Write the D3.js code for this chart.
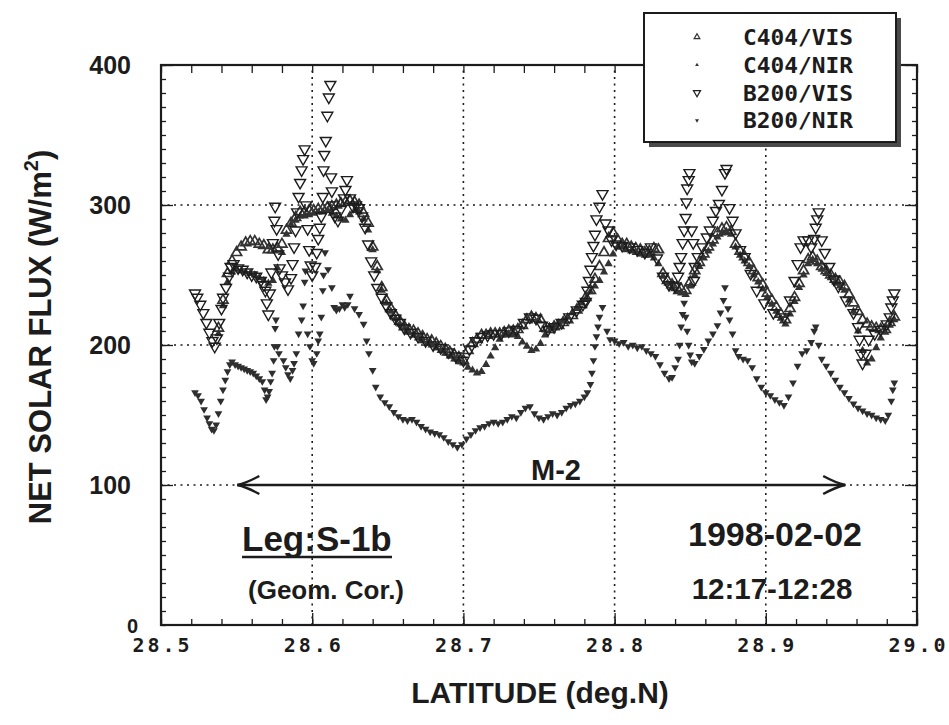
<!DOCTYPE html>
<html><head><meta charset="utf-8">
<script src="https://cdn.jsdelivr.net/npm/d3@7"></script>
<style>body{margin:0;background:#fff}svg{display:block}</style>
</head><body><svg id="c" width="949" height="725"></svg>
<script>
// ---------------- data ----------------
const latTicks = [28.5, 28.6, 28.7, 28.8, 28.9, 29.0];
const latTickLabels = ["28.5", "28.6", "28.7", "28.8", "28.9", "29.0"];
const fluxTicks = [100, 200, 300, 400];
const fluxTickLabels = ["100", "200", "300", "400"];
const latGrid = [28.6, 28.7, 28.8, 28.9];
const fluxGrid = [100, 200, 300];
const seriesNames = ["C404/VIS", "C404/NIR", "B200/VIS", "B200/NIR"];
const arrowLats = [28.5505, 28.9525];
const arrowFlux = 100;

const c404Lat = [
28.538,28.541,28.544,28.547,28.550,28.553,28.556,28.559,28.562,28.565,
28.568,28.571,28.574,28.577,28.580,28.583,28.586,28.589,28.592,28.595,
28.598,28.601,28.604,28.607,28.610,28.613,28.616,28.619,28.622,28.625,
28.628,28.631,28.634,28.637,28.640,28.643,28.646,28.649,28.652,28.655,
28.658,28.661,28.664,28.667,28.670,28.673,28.676,28.679,28.682,28.685,
28.688,28.691,28.694,28.697,28.700,28.703,28.706,28.709,28.712,28.715,
28.718,28.721,28.724,28.727,28.730,28.733,28.736,28.739,28.742,28.745,
28.748,28.751,28.754,28.757,28.760,28.763,28.766,28.769,28.772,28.775,
28.778,28.781,28.784,28.787,28.790,28.793,28.796,28.799,28.802,28.805,
28.808,28.811,28.814,28.817,28.820,28.823,28.826,28.829,28.832,28.835,
28.838,28.841,28.844,28.847,28.850,28.853,28.856,28.859,28.862,28.865,
28.868,28.871,28.874,28.877,28.880,28.883,28.886,28.889,28.892,28.895,
28.898,28.901,28.904,28.907,28.910,28.913,28.916,28.919,28.922,28.925,
28.928,28.931,28.934,28.937,28.940,28.943,28.946,28.949,28.952,28.955,
28.958,28.961,28.964,28.967,28.970,28.973,28.976,28.979,28.982,28.985];
const c404Vis = [
212,232,251,260,266,270,273,274,274,272,
271,268,268,269,272,282,287,291,295,295,
296,296,297,297,298,299,300,301,302,303,
302,300,294,287,270,256,241,232,226,221,
217,213,211,210,208,206,204,203,201,199,
197,195,193,191,189,196,201,204,207,207,
208,208,208,209,210,210,211,214,218,220,
219,218,212,211,213,214,216,218,221,225,
229,234,239,247,256,266,276,280,275,272,
272,270,269,268,266,267,269,268,251,246,
243,241,240,239,245,253,259,265,270,275,
280,283,284,281,272,267,263,259,253,248,
243,237,232,227,222,218,226,234,244,253,
261,263,260,256,253,250,247,245,242,236,
230,224,218,215,213,212,211,211,216,220];
const c404Nir = [
208,228,245,252,254,253,252,251,250,248,
246,244,246,255,266,279,286,289,292,292,
293,294,295,295,296,294,292,290,289,293,
296,295,290,282,268,253,239,230,224,219,
215,212,209,207,205,203,201,200,198,196,
194,192,190,188,187,184,182,180,181,186,
192,198,204,207,208,207,206,202,199,196,
197,201,207,213,214,215,217,220,223,226,
230,233,238,242,246,252,258,265,270,270,
268,267,266,265,264,264,262,258,249,244,
241,238,237,236,242,250,256,262,267,272,
277,280,281,279,270,264,260,256,250,245,
240,234,229,224,219,215,222,231,241,250,
258,261,258,254,251,248,245,242,239,232,
224,210,196,187,190,198,205,209,214,218];

const b200VisLat = [
28.5225,28.5240,28.5260,28.5280,28.5300,28.5320,28.5340,28.5355,28.5370,28.5385,
28.5400,28.5410,28.5430,28.5450,28.5460,28.5480,28.5510,28.5540,28.5570,28.5600,
28.5630,28.5660,28.5680,28.5690,28.5700,28.5710,28.5720,28.5730,28.5740,28.5750,
28.5755,28.5765,28.5775,28.5785,28.5800,28.5820,28.5840,28.5860,28.5870,28.5880,
28.5890,28.5900,28.5910,28.5920,28.5930,28.5940,28.5950,28.5960,28.5970,28.5980,
28.5990,28.6000,28.6020,28.6030,28.6040,28.6050,28.6060,28.6070,28.6075,28.6080,
28.6090,28.6100,28.6110,28.6120,28.6125,28.6130,28.6140,28.6150,28.6170,28.6190,
28.6210,28.6220,28.6230,28.6250,28.6270,28.6290,28.6310,28.6330,28.6350,28.6370,
28.6390,28.6410,28.6430,28.6460,28.6490,28.6520,28.6550,28.6580,28.6610,28.6650,
28.6700,28.6750,28.6800,28.6850,28.6900,28.6950,28.7000,28.7040,28.7080,28.7120,
28.7160,28.7200,28.7250,28.7300,28.7350,28.7400,28.7440,28.7480,28.7520,28.7560,
28.7600,28.7650,28.7700,28.7750,28.7790,28.7810,28.7820,28.7830,28.7840,28.7850,
28.7860,28.7870,28.7880,28.7900,28.7920,28.7940,28.7960,28.7980,28.8010,28.8050,
28.8100,28.8150,28.8200,28.8240,28.8280,28.8320,28.8360,28.8400,28.8420,28.8430,
28.8440,28.8450,28.8460,28.8470,28.8475,28.8480,28.8490,28.8495,28.8510,28.8520,
28.8525,28.8530,28.8550,28.8580,28.8610,28.8630,28.8650,28.8670,28.8690,28.8710,
28.8730,28.8740,28.8760,28.8780,28.8800,28.8830,28.8860,28.8900,28.8940,28.8990,
28.9050,28.9120,28.9160,28.9190,28.9210,28.9230,28.9250,28.9280,28.9300,28.9320,
28.9330,28.9340,28.9350,28.9370,28.9390,28.9420,28.9450,28.9480,28.9530,28.9580,
28.9610,28.9620,28.9630,28.9640,28.9660,28.9680,28.9720,28.9760,28.9800,28.9820,
28.9830,28.9840,28.9850];
const b200Vis = [
237,234,229,223,216,209,203,199,205,216,
226,234,241,249,256,258,255,254,252,250,
249,246,243,239,230,222,237,252,273,289,
299,283,265,255,250,245,240,248,258,270,
282,295,306,316,325,333,340,300,283,268,
257,250,256,266,276,284,292,306,325,336,
346,364,377,386,320,310,300,292,289,297,
305,311,318,305,299,300,298,292,284,272,
260,250,241,234,228,223,219,216,212,209,
206,203,200,198,195,192,189,197,203,206,
207,208,208,210,211,216,220,219,214,211,
213,216,220,225,229,231,239,246,254,263,
271,279,290,299,308,287,282,275,272,271,
270,268,266,270,262,249,243,242,249,256,
263,273,282,291,302,312,318,323,282,273,
246,256,263,270,277,282,289,296,301,311,
323,326,298,289,280,268,263,251,239,230,
223,220,232,246,258,270,275,275,270,276,
284,290,295,275,266,256,247,242,232,223,
213,204,194,187,194,204,208,211,215,220,
227,232,237];

const b200NirLat = [
28.5225,28.5245,28.5265,28.5285,28.5305,28.5320,28.5335,28.5350,28.5365,28.5380,
28.5395,28.5410,28.5425,28.5440,28.5455,28.5470,28.5490,28.5510,28.5530,28.5550,
28.5570,28.5590,28.5610,28.5630,28.5650,28.5670,28.5685,28.5695,28.5705,28.5715,
28.5725,28.5735,28.5745,28.5750,28.5755,28.5760,28.5770,28.5780,28.5810,28.5825,
28.5840,28.5855,28.5870,28.5880,28.5895,28.5910,28.5930,28.5940,28.5950,28.5955,
28.5970,28.5985,28.6000,28.6010,28.6030,28.6040,28.6050,28.6060,28.6070,28.6075,
28.6085,28.6105,28.6130,28.6145,28.6160,28.6180,28.6200,28.6215,28.6235,28.6250,
28.6280,28.6310,28.6340,28.6360,28.6375,28.6400,28.6420,28.6450,28.6480,28.6510,
28.6540,28.6570,28.6600,28.6630,28.6660,28.6690,28.6720,28.6750,28.6780,28.6810,
28.6840,28.6870,28.6900,28.6930,28.6960,28.6990,28.7020,28.7050,28.7080,28.7110,
28.7140,28.7170,28.7200,28.7230,28.7260,28.7290,28.7320,28.7350,28.7380,28.7410,
28.7440,28.7470,28.7500,28.7530,28.7560,28.7590,28.7620,28.7650,28.7680,28.7710,
28.7740,28.7770,28.7800,28.7820,28.7840,28.7850,28.7860,28.7870,28.7880,28.7890,
28.7900,28.7920,28.7950,28.7970,28.8000,28.8030,28.8060,28.8090,28.8120,28.8150,
28.8180,28.8210,28.8240,28.8270,28.8300,28.8330,28.8360,28.8380,28.8400,28.8420,
28.8430,28.8440,28.8450,28.8460,28.8470,28.8480,28.8490,28.8500,28.8510,28.8530,
28.8560,28.8590,28.8620,28.8650,28.8680,28.8700,28.8720,28.8730,28.8750,28.8760,
28.8780,28.8800,28.8820,28.8850,28.8880,28.8910,28.8940,28.8970,28.9000,28.9030,
28.9060,28.9090,28.9120,28.9150,28.9180,28.9210,28.9240,28.9270,28.9300,28.9320,
28.9330,28.9350,28.9370,28.9400,28.9430,28.9460,28.9490,28.9520,28.9550,28.9580,
28.9610,28.9640,28.9670,28.9700,28.9730,28.9760,28.9790,28.9810,28.9830,28.9840,
28.9850];
const b200Nir = [
166,164,160,154,148,144,140,139,143,151,
160,168,175,181,186,188,186,185,184,183,
182,181,180,178,176,174,168,161,163,167,
174,180,189,199,212,218,199,194,189,184,
179,176,182,187,194,208,218,228,245,253,
208,199,189,187,194,203,208,220,239,250,
266,254,241,227,225,226,229,227,229,235,
226,222,215,203,194,182,170,163,159,156,
152,149,147,146,147,145,142,140,138,137,
136,134,131,129,127,129,133,136,139,141,
142,144,145,144,145,147,149,148,152,155,
156,151,148,147,149,151,150,152,155,157,
158,160,163,166,172,180,189,199,206,213,
220,227,210,204,203,201,202,199,200,198,
199,196,194,192,186,180,176,177,184,190,
200,213,222,230,220,210,200,193,188,187,
192,197,203,208,214,223,232,241,226,218,
208,196,192,190,189,184,176,170,166,164,
161,159,157,163,173,185,194,196,202,210,
213,200,190,185,180,175,170,166,162,158,
155,153,151,150,148,147,146,150,160,168,
173];

// ---------------- drawing ----------------
const svg = d3.select("#c");
const ink = "#1c1c1c";
const sans = "'Liberation Sans', Arial, Helvetica, sans-serif";
const mono = "'DejaVu Sans Mono', 'Liberation Mono', monospace";

const x = d3.scaleLinear().domain([28.5, 29.0]).range([161, 917]);
const y = d3.scaleLinear().domain([0, 400]).range([625, 65]);

// grid lines
const grid = svg.append("g").attr("stroke", ink).attr("stroke-width", 1.6)
  .attr("stroke-dasharray", "2,4.5");
grid.selectAll("line.v").data(latGrid).join("line").attr("class", "v")
  .attr("x1", d => x(d)).attr("x2", d => x(d)).attr("y1", y(0)).attr("y2", y(400));
grid.selectAll("line.h").data(fluxGrid).join("line").attr("class", "h")
  .attr("y1", d => y(d)).attr("y2", d => y(d)).attr("x1", x(28.5)).attr("x2", x(29.0));

// series
const tri = s => d3.symbol(d3.symbolTriangle, s)();
function drawSeries(lats, vals, o) {
  svg.append("g").selectAll("path").data(lats.map((l, i) => [l, vals[i]])).join("path")
    .attr("d", tri(o.size))
    .attr("transform", d => `translate(${x(d[0])},${y(d[1])})` + (o.down ? " rotate(180)" : ""))
    .attr("fill", o.fill).attr("stroke", o.stroke).attr("stroke-width", o.sw);
}
const styles = [
  {size: 44, down: false, fill: "none", stroke: "#333", sw: 1.7},
  {size: 30, down: false, fill: "#333", stroke: "none", sw: 0},
  {size: 52, down: true, fill: "none", stroke: ink, sw: 1.4},
  {size: 26, down: true, fill: "#2e2e2e", stroke: "none", sw: 0}
];
drawSeries(c404Lat, c404Vis, styles[0]);
drawSeries(c404Lat, c404Nir, styles[1]);
drawSeries(b200NirLat, b200Nir, styles[3]);
drawSeries(b200VisLat, b200Vis, styles[2]);

// axes (ticks pointing inward)
const minorLat = d3.range(0, 26).map(i => 28.5 + i * 0.02);
const minorFlux = d3.range(0, 41).map(i => i * 10);
function axisCall(gen) {
  return g => { g.call(gen); g.select(".domain").remove(); g.attr("color", ink).selectAll("line").attr("stroke-width", 1.3); };
}
svg.append("g").attr("transform", `translate(0,${y(0)})`).call(axisCall(d3.axisBottom(x).tickValues(minorLat).tickSize(-6).tickFormat("")));
svg.append("g").attr("transform", `translate(0,${y(0)})`).call(axisCall(d3.axisBottom(x).tickValues(latTicks).tickSize(-12).tickFormat("")));
svg.append("g").attr("transform", `translate(0,${y(400)})`).call(axisCall(d3.axisTop(x).tickValues(minorLat).tickSize(-8).tickFormat("")));
svg.append("g").attr("transform", `translate(${x(28.5)},0)`).call(axisCall(d3.axisLeft(y).tickValues(minorFlux).tickSize(-5).tickFormat("")));
svg.append("g").attr("transform", `translate(${x(28.5)},0)`).call(axisCall(d3.axisLeft(y).tickValues(fluxTicks).tickSize(-12).tickFormat("")));
svg.append("g").attr("transform", `translate(${x(29.0)},0)`).call(axisCall(d3.axisRight(y).tickValues(minorFlux).tickSize(-5).tickFormat("")));
svg.append("g").attr("transform", `translate(${x(29.0)},0)`).call(axisCall(d3.axisRight(y).tickValues(fluxTicks).tickSize(-12).tickFormat("")));

// frame
svg.append("rect").attr("x", x(28.5)).attr("y", y(400)).attr("width", x(29.0) - x(28.5))
  .attr("height", y(0) - y(400)).attr("fill", "none").attr("stroke", ink).attr("stroke-width", 2.2);

// tick labels
svg.append("g").selectAll("text").data(latTicks).join("text")
  .attr("x", d => x(d)).attr("y", 652).attr("text-anchor", "middle")
  .attr("font-family", mono).attr("font-weight", "bold").attr("font-size", 20).attr("fill", ink)
  .attr("textLength", 57).attr("lengthAdjust", "spacing")
  .text((d, i) => latTickLabels[i]);
svg.append("g").selectAll("text").data(fluxTicks).join("text")
  .attr("x", 131).attr("y", d => y(d)).attr("dy", "0.36em").attr("text-anchor", "end")
  .attr("font-family", sans).attr("font-weight", "bold").attr("font-size", 25).attr("fill", ink)
  .text((d, i) => fluxTickLabels[i]);
svg.append("text").attr("x", 138).attr("y", 633).attr("text-anchor", "end")
  .attr("font-family", sans).attr("font-weight", "bold").attr("font-size", 20).attr("fill", ink).text("0");

// axis titles
svg.append("text").attr("x", 540).attr("y", 703).attr("text-anchor", "middle")
  .attr("font-family", sans).attr("font-weight", "bold").attr("font-size", 30).attr("fill", ink)
  .text("LATITUDE (deg.N)");
const yt = svg.append("text").attr("transform", "translate(51,337) rotate(-90)").attr("text-anchor", "middle")
  .attr("font-family", sans).attr("font-weight", "bold").attr("font-size", 31).attr("fill", ink);
yt.append("tspan").text("NET SOLAR FLUX (W/m");
yt.append("tspan").attr("font-size", 20).attr("dy", -13).text("2");
yt.append("tspan").attr("dy", 13).text(")");

// M-2 arrow
const ay = y(arrowFlux), ax0 = x(arrowLats[0]), ax1 = x(arrowLats[1]);
const ar = svg.append("g").attr("stroke", ink).attr("fill", "none").attr("stroke-width", 2.4);
ar.append("line").attr("x1", ax0).attr("x2", ax1).attr("y1", ay).attr("y2", ay);
ar.append("path").attr("d", `M${ax0 + 22},${ay - 9} Q${ax0 + 9},${ay - 2} ${ax0},${ay} Q${ax0 + 9},${ay + 2} ${ax0 + 22},${ay + 9}`);
ar.append("path").attr("d", `M${ax1 - 22},${ay - 9} Q${ax1 - 9},${ay - 2} ${ax1},${ay} Q${ax1 - 9},${ay + 2} ${ax1 - 22},${ay + 9}`);
svg.append("text").attr("x", 556).attr("y", 480).attr("text-anchor", "middle")
  .attr("font-family", sans).attr("font-weight", "bold").attr("font-size", 29).attr("fill", ink).text("M-2");

// annotations
function label(t, xx, yy, fs, anchor) {
  return svg.append("text").attr("x", xx).attr("y", yy).attr("text-anchor", anchor || "start")
    .attr("font-family", sans).attr("font-weight", "bold").attr("font-size", fs).attr("fill", ink).text(t);
}
label("Leg:S-1b", 242, 551, 35);
svg.append("line").attr("x1", 242).attr("x2", 392).attr("y1", 557).attr("y2", 557).attr("stroke", ink).attr("stroke-width", 2.6);
label("(Geom. Cor.)", 248, 599, 26);
label("1998-02-02", 775, 546, 34, "middle");
label("12:17-12:28", 772, 599, 29.5, "middle");

// legend
const lg = svg.append("g");
lg.append("rect").attr("x", 649).attr("y", 18).attr("width", 252).attr("height", 129).attr("fill", "#4a4a4a");
lg.append("rect").attr("x", 644).attr("y", 13).attr("width", 252).attr("height", 129)
  .attr("fill", "#fff").attr("stroke", ink).attr("stroke-width", 2);
const legSizes = [14, 6, 22, 7];
seriesNames.forEach((name, i) => {
  const cy = 37 + i * 27.8;
  const st = styles[i];
  lg.append("path").attr("d", tri(legSizes[i]))
    .attr("transform", `translate(697,${cy})` + (st.down ? " rotate(180)" : ""))
    .attr("fill", st.fill).attr("stroke", st.stroke).attr("stroke-width", Math.min(st.sw, 1.2));
  lg.append("text").attr("x", 743).attr("y", cy + 8).attr("font-family", mono).attr("font-weight", "bold")
    .attr("font-size", 21).attr("fill", ink).attr("textLength", 110).attr("lengthAdjust", "spacingAndGlyphs").text(name);
});
</script></body></html>
